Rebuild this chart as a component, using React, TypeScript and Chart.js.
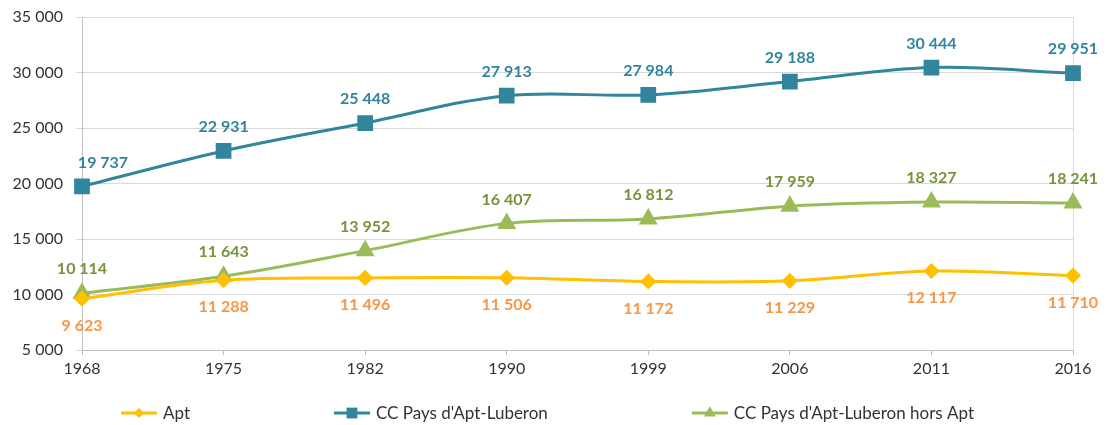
import { useEffect, useRef } from 'react';
import { Chart, registerables } from 'chart.js';

Chart.register(...registerables);

const years = ['1968', '1975', '1982', '1990', '1999', '2006', '2011', '2016'];
const aptValues = [9623, 11288, 11496, 11506, 11172, 11229, 12117, 11710];
const ccValues = [19737, 22931, 25448, 27913, 27984, 29188, 30444, 29951];
const horsAptValues = [10114, 11643, 13952, 16407, 16812, 17959, 18327, 18241];
const seriesNames = ['Apt', "CC Pays d'Apt-Luberon", "CC Pays d'Apt-Luberon hors Apt"];
const yMin = 5000;
const yMax = 35000;
const yStep = 5000;

const FONT = 'Lato, "Noto Sans", sans-serif';

const fmt = (v: number) => String(Math.round(v)).replace(/\B(?=(\d{3})+(?!\d))/g, ' ');

function drawMarker(ctx: CanvasRenderingContext2D, style: string, x: number, y: number, r: number) {
  ctx.beginPath();
  if (style === 'rect') {
    const s = r * Math.SQRT1_2;
    ctx.rect(x - s, y - s, 2 * s, 2 * s);
  } else if (style === 'triangle') {
    ctx.moveTo(x, y - r);
    ctx.lineTo(x + r * 0.866, y + r * 0.5);
    ctx.lineTo(x - r * 0.866, y + r * 0.5);
    ctx.closePath();
  } else {
    ctx.moveTo(x - r, y);
    ctx.lineTo(x, y - r);
    ctx.lineTo(x + r, y);
    ctx.lineTo(x, y + r);
    ctx.closePath();
  }
  ctx.fill();
}

const labelPlugin = {
  id: 'valueLabels',
  afterDatasetsDraw(chart: any) {
    const ctx = chart.ctx as CanvasRenderingContext2D;
    ctx.save();
    ctx.font = `bold 16px ${FONT}`;
    ctx.textAlign = 'center';
    ctx.textBaseline = 'middle';
    chart.data.datasets.forEach((ds: any, i: number) => {
      const meta = chart.getDatasetMeta(i);
      ctx.fillStyle = ds.labelColor;
      meta.data.forEach((pt: any, j: number) => {
        const v = ds.data[j] as number;
        const dy = ds.labelBelow ? 27 : -24;
        const dx = j === 0 && ds.firstLabelShift ? ds.firstLabelShift : 0;
        ctx.fillText(fmt(v), pt.x + dx, pt.y + dy);
      });
    });
    ctx.restore();
  },
};

const legendPlugin = {
  id: 'customLegend',
  afterDraw(chart: any) {
    const ctx = chart.ctx as CanvasRenderingContext2D;
    ctx.save();
    ctx.font = `17px ${FONT}`;
    ctx.textBaseline = 'middle';
    const lineLen = 36;
    const gapText = 6;
    const gapItems = 144;
    const items = chart.data.datasets.map((ds: any) => ({
      ds,
      w: lineLen + gapText + ctx.measureText(ds.label).width,
    }));
    const total = items.reduce((a: number, it: any) => a + it.w, 0) + gapItems * (items.length - 1);
    let x = (chart.width - total) / 2 - 7;
    const y = chart.height - 12;
    items.forEach((it: any) => {
      const ds = it.ds;
      ctx.strokeStyle = ds.borderColor;
      ctx.lineWidth = 3;
      ctx.beginPath();
      ctx.moveTo(x, y);
      ctx.lineTo(x + lineLen, y);
      ctx.stroke();
      ctx.fillStyle = ds.pointBackgroundColor;
      drawMarker(ctx, ds.pointStyle, x + lineLen / 2, y, ds.pointRadius * 0.85);
      ctx.fillStyle = '#333333';
      ctx.fillText(ds.label, x + lineLen + gapText, y + 1);
      x += it.w + gapItems;
    });
    ctx.restore();
  },
};

export default function App() {
  const ref = useRef<HTMLCanvasElement>(null);
  useEffect(() => {
    document.body.style.margin = '0';
    Chart.defaults.font.family = FONT;
    const yTickValues: number[] = [];
    for (let v = yMin; v <= yMax; v += yStep) yTickValues.push(v);
    const chart = new Chart(ref.current!, {
      type: 'line',
      data: {
        labels: years,
        datasets: [
          {
            label: seriesNames[0],
            data: aptValues,
            borderColor: '#FFC000',
            backgroundColor: '#FFC000',
            pointBackgroundColor: '#FFC000',
            pointBorderColor: '#FFC000',
            pointStyle: 'rectRot',
            pointRadius: 6,
            borderWidth: 3,
            tension: 0.35,
            labelColor: '#F79646',
            labelBelow: true,
          } as any,
          {
            label: seriesNames[1],
            data: ccValues,
            borderColor: '#31859C',
            backgroundColor: '#31859C',
            pointBackgroundColor: '#31859C',
            pointBorderColor: '#31859C',
            pointStyle: 'rect',
            pointRadius: 9,
            borderWidth: 3,
            tension: 0.35,
            labelColor: '#31859C',
            firstLabelShift: 21,
          } as any,
          {
            label: seriesNames[2],
            data: horsAptValues,
            borderColor: '#9BBB59',
            backgroundColor: '#9BBB59',
            pointBackgroundColor: '#9BBB59',
            pointBorderColor: '#9BBB59',
            pointStyle: 'triangle',
            pointRadius: 8,
            borderWidth: 3,
            tension: 0.35,
            labelColor: '#77933C',
          } as any,
        ],
      },
      options: {
        animation: false,
        responsive: false,
        maintainAspectRatio: false,
        layout: { padding: { top: 17, right: 36, bottom: 45, left: 0 } },
        plugins: {
          legend: { display: false },
          tooltip: { enabled: false },
        },
        scales: {
          x: {
            offset: false,
            grid: {
              drawOnChartArea: true,
              color: (c: any) => (c.index === years.length - 1 ? '#D9D9D9' : 'rgba(0,0,0,0)'),
              tickColor: '#BFBFBF',
              tickLength: 5,
            },
            border: { color: '#BFBFBF', width: 1 },
            ticks: { color: '#333333', font: { size: 16 }, padding: 4, maxRotation: 0 },
            afterFit: (s: any) => {
              s.height = 30;
            },
          },
          y: {
            min: yMin,
            max: yMax,
            afterBuildTicks: (s: any) => {
              s.ticks = yTickValues.map((v) => ({ value: v }));
            },
            grid: { color: '#D9D9D9', tickColor: '#D9D9D9', tickLength: 6 },
            border: { color: '#BFBFBF', width: 1 },
            ticks: {
              color: '#333333',
              font: { size: 16 },
              padding: 13,
              callback: (v: any) => fmt(Number(v)),
            },
            afterFit: (s: any) => {
              s.width = 82;
              s.paddingTop = 0;
              s.paddingBottom = 0;
            },
          },
        },
      },
      plugins: [labelPlugin, legendPlugin],
    });
    return () => chart.destroy();
  }, []);
  return <canvas ref={ref} width={1109} height={425} style={{ display: 'block' }} />;
}
